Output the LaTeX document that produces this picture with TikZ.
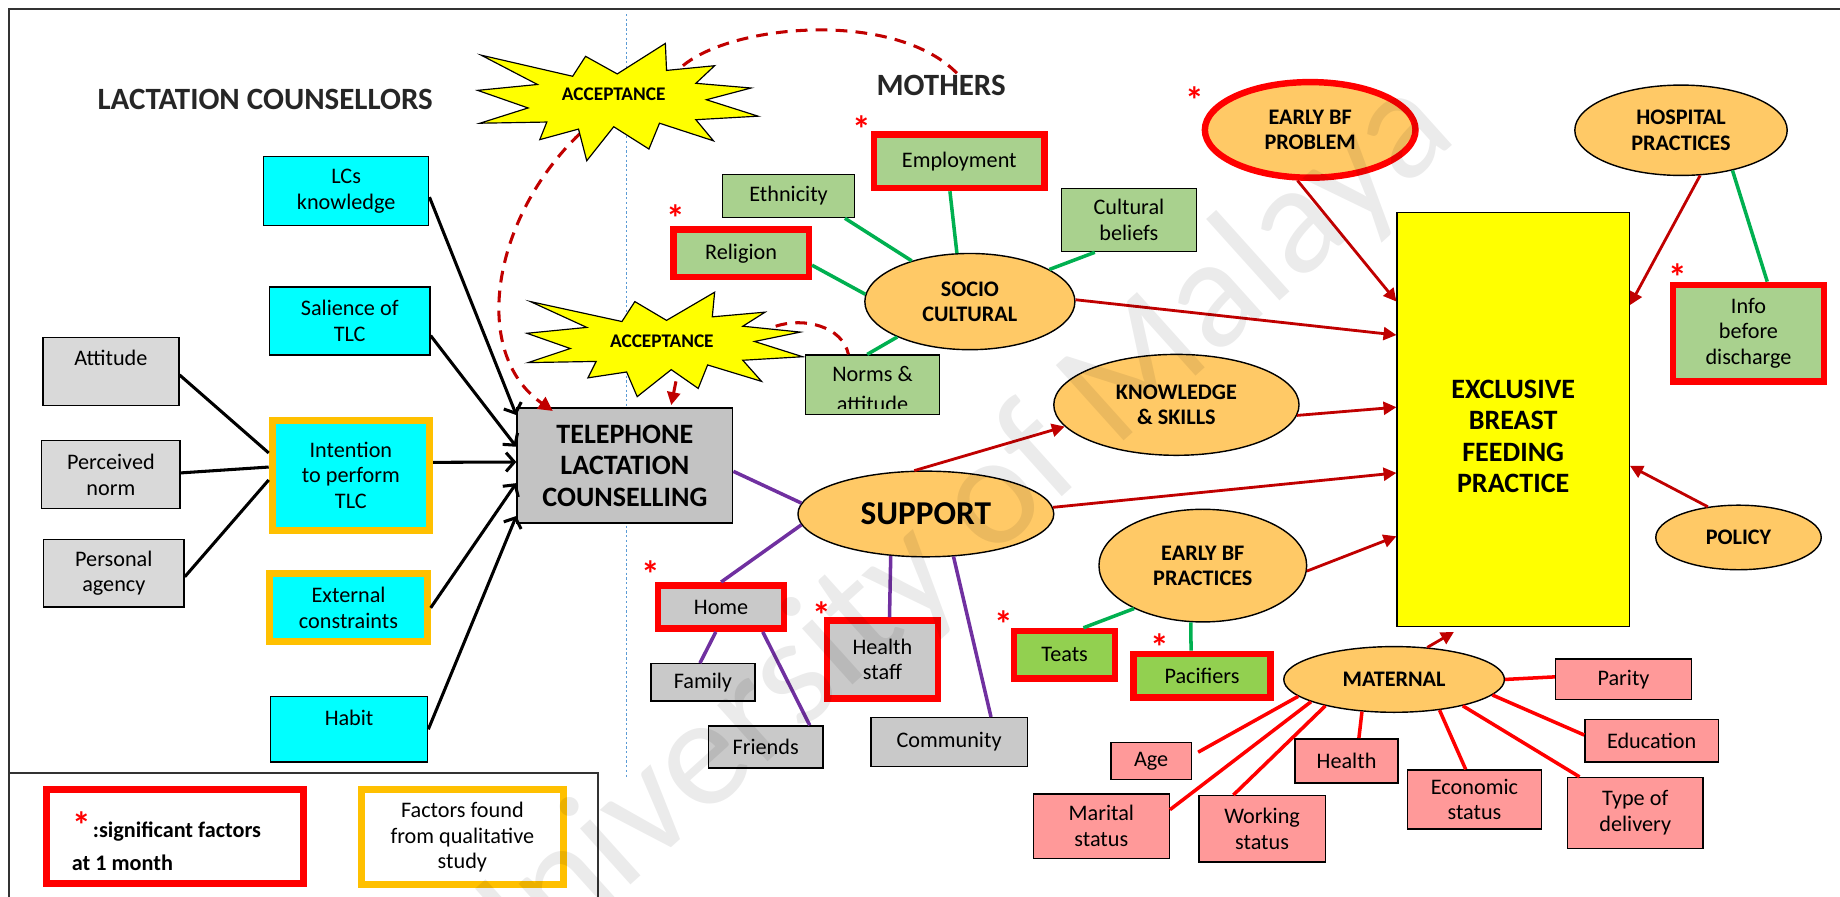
\documentclass[tikz,border=0pt]{standalone}
\usepackage{fontspec}
\setmainfont{Carlito}
\usetikzlibrary{arrows.meta,shapes.geometric}

\definecolor{grayL}{HTML}{D9D9D9}
\definecolor{grayS}{HTML}{C9C9C9}
\definecolor{grayT}{HTML}{C3C3C3}
\definecolor{cyanB}{HTML}{00FFFF}
\definecolor{greenB}{HTML}{A9D18E}
\definecolor{greenT}{HTML}{92D050}
\definecolor{pinkB}{HTML}{FF9999}
\definecolor{ovalF}{HTML}{FFC966}
\definecolor{yellowB}{HTML}{FFFF00}
\definecolor{sigRed}{HTML}{FF0000}
\definecolor{qualOr}{HTML}{FFC000}
\definecolor{arrowRed}{HTML}{C00000}
\definecolor{greenLn}{HTML}{00B050}
\definecolor{purpleLn}{HTML}{7030A0}
\definecolor{dotBlue}{HTML}{5B9BD5}

\begin{document}
\begin{tikzpicture}[x=1bp, y=-1bp,
  txt/.style={font=\fontsize{19}{22}\selectfont, align=center},
  box/.style={rectangle, draw=black, line width=1.2bp, inner sep=1bp, txt},
  gbox/.style={box, fill=grayL},
  sbox/.style={box, fill=grayS},
  cbox/.style={box, fill=cyanB},
  grbox/.style={box, fill=greenB},
  tbox/.style={box, fill=greenT},
  pbox/.style={box, fill=pinkB},
  sig/.style={draw=sigRed, line width=5.5bp},
  qual/.style={draw=qualOr, line width=6bp},
  oval/.style={ellipse, draw=black, line width=1.2bp, fill=ovalF, inner sep=0pt,
    align=center, font=\bfseries\fontsize{19}{21.5}\selectfont},
  head/.style={font=\bfseries\fontsize{26.5}{30}\selectfont, text=black!85},
  burst/.style={draw=black, line width=1bp, fill=yellowB, line join=miter},
  burstlbl/.style={font=\bfseries\fontsize{16.5}{18}\selectfont, inner sep=0pt},
  ast/.style={text=sigRed, font=\bfseries\fontsize{32}{32}\selectfont, inner sep=0pt, anchor=base},
  tpb/.style={line width=2.6bp, -{Straight Barb[length=7bp,width=16bp]}},
  feed/.style={line width=2.6bp},
  redarr/.style={color=arrowRed, line width=2.4bp, -{Triangle[length=11bp,width=11bp]}},
  grln/.style={draw=greenLn, line width=3bp},
  puln/.style={draw=purpleLn, line width=3bp},
  rdln/.style={draw=sigRed, line width=3bp},
  acclink/.style={color=arrowRed, line width=2.6bp, dash pattern=on 10bp off 7bp},
]
\useasboundingbox (0,0) rectangle (1568,764);

% frame, legend corner and the dotted divider
\draw[line width=1.8bp, black!80] (8,764) -- (8,8) -- (1568,8);
\draw[line width=1.5bp, black!80] (8,659) -- (509.5,659) -- (509.5,764);
\draw[dotBlue, line width=1.2bp, dash pattern=on 2bp off 2bp] (534,12) -- (534,662);

% headings
\node[head] (lchead) at (226,85) {LACTATION COUNSELLORS};
\node[head] (mohead) at (802,73) {MOTHERS};

% lactation counsellor factors
\node[gbox, minimum width=115.8bp, minimum height=57.8bp] (att) at (94.5,316.5) {};
\node[txt] (attl) at (94.5,305) {Attitude};
\node[gbox, minimum width=117.8bp, minimum height=57.8bp] (per) at (94.5,404.5) {Perceived\\norm};
\node[gbox, minimum width=119.8bp, minimum height=57.8bp] (pag) at (97,488.5) {Personal\\agency};
\node[cbox, minimum width=140.8bp, minimum height=58.8bp] (lck) at (295,163) {LCs\\knowledge};
\node[cbox, minimum width=136.8bp, minimum height=57.8bp] (sal) at (298,273.5) {Salience of\\TLC};
\node[cbox, qual, minimum width=134bp, minimum height=94bp] (int) at (299,405) {Intention\\to perform\\TLC};
\node[cbox, qual, minimum width=134bp, minimum height=58bp] (ext) at (297,518) {External\\constraints};
\node[cbox, minimum width=133.8bp, minimum height=55.8bp] (hab) at (297.5,621.5) {};
\node[txt] (habl) at (297.5,612) {Habit};

\node[box, fill=grayT, minimum width=183.8bp, minimum height=97.8bp,
  font=\bfseries\fontsize{24}{27}\selectfont] (tlc) at (532.5,396.7) {TELEPHONE\\LACTATION\\COUNSELLING};

% socio-cultural factors
\node[grbox, minimum width=112.8bp, minimum height=36.8bp] (eth) at (672,167) {Ethnicity};
\node[grbox, sig, minimum width=145.5bp, minimum height=45.5bp] (emp) at (817.5,137.5) {Employment};
\node[grbox, sig, minimum width=115.5bp, minimum height=40.5bp] (rel) at (631.5,216) {Religion};
\node[grbox, minimum width=114.8bp, minimum height=53.8bp] (cul) at (962,187.5) {Cultural\\beliefs};
\node[grbox, minimum width=113.8bp, minimum height=50.8bp] (nrm) at (743.5,328) {};
\begin{scope}
  \clip ([shift={(1bp,-1bp)}]nrm.north west) rectangle ([shift={(-1bp,6bp)}]nrm.south east);
  \node[txt, anchor=base] (nrm1) at (743.5,325) {Norms \&};
  \node[txt, anchor=base] (nrm2) at (743.5,351) {attitude};
\end{scope}

% ovals
\node[oval, minimum width=179bp, minimum height=82bp] (soc) at (826.5,257) {SOCIO\\CULTURAL};
\node[oval, sig, minimum width=179.5bp, minimum height=81.5bp] (ebp) at (1116.5,110.7) {EARLY BF\\PROBLEM};
\node[oval, minimum width=181bp, minimum height=77bp] (hos) at (1432.5,111) {HOSPITAL\\PRACTICES};
\node[oval, minimum width=209bp, minimum height=86bp] (kns) at (1002.5,345) {KNOWLEDGE\\\& SKILLS};
\node[oval, minimum width=218bp, minimum height=73bp, font=\bfseries\fontsize{28.5}{30}\selectfont] (sup) at (789,438) {SUPPORT};
\node[oval, minimum width=177bp, minimum height=96bp] (ebfp) at (1025,482) {EARLY BF\\PRACTICES};
\node[oval, minimum width=188bp, minimum height=56bp] (mat) at (1188,579) {MATERNAL};
\node[oval, minimum width=141bp, minimum height=55bp] (pol) at (1481.5,458) {POLICY};

% outcome
\node[box, fill=yellowB, minimum width=197.8bp, minimum height=352.8bp] (ebf) at (1289.5,357.5) {};
\node[font=\bfseries\fontsize{24}{27}\selectfont, align=center] (ebft) at (1289.5,372) {EXCLUSIVE\\BREAST\\FEEDING\\PRACTICE};

\node[grbox, sig, minimum width=128.5bp, minimum height=82.5bp] (info) at (1490,284) {Info\\before\\discharge};

% support sources
\node[sbox, sig, minimum width=107.5bp, minimum height=37bp] (home) at (614.5,517.25) {Home};
\node[sbox, minimum width=88.8bp, minimum height=31.8bp] (fam) at (599,581.5) {Family};
\node[sbox, minimum width=97.8bp, minimum height=35.8bp] (fri) at (652.5,636.5) {Friends};
\node[sbox, sig, minimum width=94.5bp, minimum height=66.5bp] (hst) at (752,562) {Health\\staff};
\node[sbox, minimum width=133.2bp, minimum height=41.4bp] (com) at (808.8,632.3) {Community};

% early breastfeeding practices
\node[tbox, sig, minimum width=86bp, minimum height=40.5bp] (teats) at (907.25,558) {Teats};
\node[tbox, sig, minimum width=117bp, minimum height=37bp] (pac) at (1024.3,575.75) {Pacifiers};

% maternal factors
\node[pbox, minimum width=115.8bp, minimum height=34.4bp] (par) at (1383.5,578.8) {Parity};
\node[pbox, minimum width=113.8bp, minimum height=36.1bp] (edu) at (1407.5,631.35) {Education};
\node[pbox, minimum width=115.8bp, minimum height=60.3bp] (tod) at (1393.5,692.75) {Type of\\delivery};
\node[pbox, minimum width=113.8bp, minimum height=50.2bp] (eco) at (1256.5,681.3) {Economic\\status};
\node[pbox, minimum width=87.8bp, minimum height=37.8bp] (hlt) at (1147.5,648.5) {Health};
\node[pbox, minimum width=107.8bp, minimum height=56.3bp] (wrk) at (1075.5,706.25) {Working\\status};
\node[pbox, minimum width=68.8bp, minimum height=31.8bp] (age) at (981,648.5) {Age};
\node[pbox, minimum width=115.8bp, minimum height=54.8bp] (mar) at (938.5,704) {Marital\\status};

% legend
\node[rectangle, draw=sigRed, line width=6bp, fill=white, minimum width=219bp, minimum height=80bp] (legsig) at (149,713) {};
\node[txt, font=\bfseries\fontsize{19}{22}\selectfont, anchor=west, inner sep=0pt] (legsig1) at (79,709) {:significant factors};
\node[txt, font=\bfseries\fontsize{19}{22}\selectfont, anchor=west, inner sep=0pt] (legsig2) at (61,735) {at 1 month};
\node[rectangle, draw=qualOr, line width=6bp, fill=white, minimum width=172bp, minimum height=81bp, txt] (legqual) at (394,713.5) {Factors found\\from qualitative\\study};

% significance marks
\node[ast] (s1) at (734,121.6) {*};
\node[ast] (s2) at (576,197.6) {*};
\node[ast] (s3) at (1018,97) {*};
\node[ast] (s4) at (1430,247.6) {*};
\node[ast] (s5) at (555,500.6) {*};
\node[ast] (s6) at (700.6,535.6) {*};
\node[ast] (s7) at (855,543.6) {*};
\node[ast] (s8) at (988,562.6) {*};
\node[ast] (s9) at (70,714.6) {*};

% theory of planned behaviour links
\draw[tpb] ([yshift=-5bp]lck.east) -- ([yshift=43bp]tlc.west);
\draw[tpb] ([yshift=-12.5bp]sal.east) -- ([yshift=16bp]tlc.west);
\draw[tpb] ([yshift=11bp]int.east) -- ([yshift=3bp]tlc.west);
\draw[tpb] (ext.east) -- ([yshift=-15bp]tlc.west);
\draw[tpb] (hab.east) -- ([yshift=-43bp]tlc.west);
\draw[feed] ([yshift=-3bp]att.east) -- ([yshift=19bp]int.west);
\draw[feed] ([yshift=1.5bp]per.east) -- ([yshift=7bp]int.west);
\draw[feed] ([yshift=-3bp]pag.east) -- ([yshift=-4bp]int.west);

% influences on exclusive breastfeeding
\draw[redarr] (soc.1) -- ([yshift=72bp]ebf.west);
\draw[redarr] (ebp.256) -- ([yshift=100.5bp]ebf.west);
\draw[redarr] (hos.293) -- ([yshift=97.5bp]ebf.east);
\draw[grln] (hos.322) -- ([xshift=16bp]info.north);
\draw[redarr] (kns.355) -- ([yshift=10.5bp]ebf.west);
\draw[redarr] (sup.105) -- (kns.191);
\draw[redarr] (sup.3) -- ([yshift=-45.5bp]ebf.west);
\draw[redarr] (ebfp.357) -- ([yshift=-99.5bp]ebf.west);
\draw[redarr] (pol.135) -- ([yshift=-39.5bp]ebf.east);
\draw[redarr] (mat.44) -- ([xshift=-50.5bp,yshift=-4bp]ebf.south);

% support links
\draw[puln] ([yshift=-5bp]tlc.east) -- (sup.175);
\draw[puln] (sup.185) -- (home.north);
\draw[puln] ([xshift=-4.5bp]home.south) -- ([xshift=-2.5bp]fam.north);
\draw[puln] ([xshift=35.5bp]home.south) -- ([xshift=37.5bp]fri.north);
\draw[puln] (sup.230) -- ([xshift=6bp]hst.north);
\draw[puln] (sup.303) -- ([xshift=35.7bp]com.north);

% socio-cultural links
\draw[grln] ([xshift=48bp]eth.south) -- (soc.145);
\draw[grln] ([xshift=-8bp]emp.south) -- (soc.105);
\draw[grln] ([yshift=-10bp]rel.east) -- (soc.176);
\draw[grln] ([xshift=-29bp]cul.south) -- (soc.22);
\draw[grln] ([xshift=-4.5bp]nrm.north) -- (soc.206);

% early practice links
\draw[grln] (ebfp.212) -- ([xshift=16bp]teats.north);
\draw[grln] (ebfp.258) -- ([xshift=-9.3bp]pac.north);

% maternal links
\draw[rdln] (mat.190) -- ([xshift=5bp,yshift=7.5bp]age.east);
\draw[rdln] (mat.195) -- ([yshift=14bp]mar.east);
\draw[rdln] (mat.201) -- ([xshift=-24.5bp]wrk.north);
\draw[rdln] (mat.225) -- ([xshift=10.5bp]hlt.north);
\draw[rdln] (mat.326) -- ([xshift=-7.5bp]eco.north);
\draw[rdln] (mat.339) -- ([xshift=-47.5bp]tod.north);
\draw[rdln] (mat.351) -- ([yshift=5bp]edu.west);
\draw[rdln] (mat.0) -- ([yshift=2bp]par.west);

% acceptance loops
\coordinate (a1top) at (582,56);
\coordinate (moTop) at (817,64);
\coordinate (a1low) at (494,114);
\coordinate (a2right) at (661,278);
\coordinate (a2low) at (576,325);
\draw[acclink] (a1top) .. controls (625,20) and (765,8) .. (moTop);
\draw[acclink, -{Triangle[length=12bp,width=12bp]}] (a1low) .. controls (420,185) and (400,300) .. ([xshift=31bp,yshift=-3bp]tlc.north west);
\draw[acclink] (a2right) .. controls (685,270) and (718,278) .. ([xshift=-20.5bp]nrm.north);
\draw[acclink, -{Triangle[length=11bp,width=11bp]}] (a2low) -- ([xshift=39.5bp,yshift=2bp]tlc.north);

% acceptance bursts
\draw[burst] (410,47) -- (488,65) -- (499,48) -- (526,63) -- (567,37) -- (568,60) -- (609,56)
  -- (593,71) -- (640,75) -- (602,85) -- (646,99) -- (593,102) -- (608,120) -- (562,105)
  -- (553,127) -- (523,108) -- (500,137) -- (493,110) -- (460,119) -- (466,104) -- (409,105)
  -- (450,92) -- (407,77) -- (458,72) -- cycle;
\node[burstlbl] (acc1) at (523,80) {ACCEPTANCE};
\draw[burst] (452,257) -- (530,274) -- (541,257) -- (568,273) -- (609,249) -- (607,270) -- (652,266)
  -- (633,278) -- (682,283) -- (643,291) -- (684,304) -- (633,307) -- (649,325) -- (603,311)
  -- (595,331) -- (572,315) -- (543,338) -- (534,317) -- (501,322) -- (508,308) -- (450,309)
  -- (486,297) -- (449,284) -- (500,279) -- cycle;
\node[burstlbl] (acc2) at (564,291) {ACCEPTANCE};

% watermark
\node[font=\fontsize{135}{135}\selectfont, text=black, text opacity=0.08, rotate=42] (wmark) at (805,465) {University of Malaya};
\end{tikzpicture}
\end{document}
